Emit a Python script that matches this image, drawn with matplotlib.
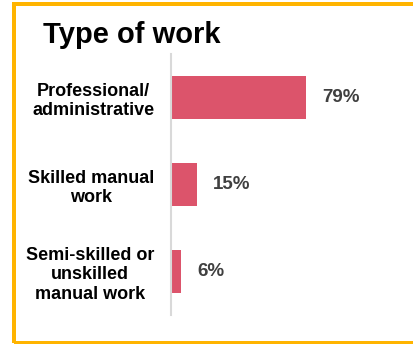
import matplotlib
matplotlib.use("Agg")
import matplotlib.pyplot as plt
from matplotlib.patches import Rectangle

categories = ["Professional/\nadministrative", "Skilled manual\nwork", "Semi-skilled or\nunskilled\nmanual work"]
values = [79, 15, 6]
value_labels = ["79%", "15%", "6%"]
title = "Type of work"

W, H = 414, 344
DPI = 100
fig = plt.figure(figsize=(W / DPI, H / DPI), dpi=DPI)
fig.patch.set_facecolor("white")

plt.rcParams["font.family"] = ["Liberation Sans", "DejaVu Sans"]

# orange frame (open on the right side)
frame = Rectangle((14, 1), 600, 339, transform=None, fill=False,
                  edgecolor="#FFB400", linewidth=4 * 72 / DPI)
fig.patches.append(frame)

ax_left, ax_right, ax_top, ax_bottom = 171, 400, 54, 315
ax = fig.add_axes([ax_left / W, (H - ax_bottom) / H,
                   (ax_right - ax_left) / W, (ax_bottom - ax_top) / H])

px_per_unit = 1.71
ax.set_xlim(0, (ax_right - ax_left) / px_per_unit)
ax.set_ylim(len(categories) - 0.5, -0.5)

ypos = list(range(len(categories)))
ax.barh(ypos, values, height=0.5, color="#DC546B")

for y, v, lab in zip(ypos, values, value_labels):
    ax.annotate(lab, xy=(v, y), xytext=(16 * 72 / DPI, 0), textcoords="offset points",
                ha="left", va="center", fontsize=13.5, fontweight="bold",
                color="#404040")

ax.set_yticks(ypos)
ax.set_yticklabels(categories, fontsize=13, fontweight="bold",
                   multialignment="center", color="black", linespacing=1.2)
ax.tick_params(axis="y", length=0, pad=12)
ax.set_xticks([])

for side in ["top", "right", "bottom"]:
    ax.spines[side].set_visible(False)
ax.spines["left"].set_color("#D9D9D9")
ax.spines["left"].set_linewidth(1.5)

fig.text(43 / W, 1 - 43 / H, title, fontsize=21, fontweight="bold",
         color="black", ha="left", va="baseline")

fig.savefig("out.png", dpi=DPI)
